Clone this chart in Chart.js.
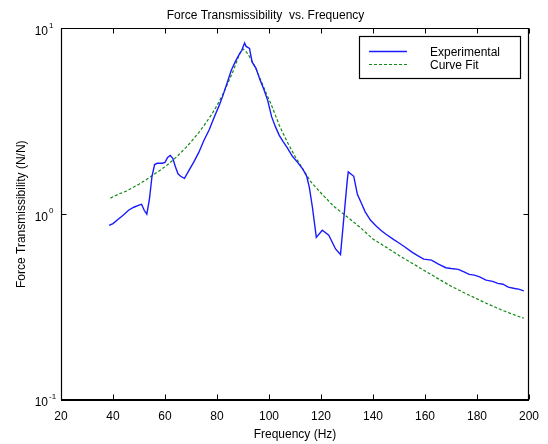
<!DOCTYPE html>
<html>
<head>
<meta charset="utf-8">
<script src="https://cdn.jsdelivr.net/npm/chart.js@4.4.1/dist/chart.umd.min.js"></script>
<style>
  html, body { margin: 0; padding: 0; background: #fff; }
  canvas { display: block; }
</style>
</head>
<body>
<canvas id="c" width="548" height="444"></canvas>
<script>
// ---- Data ----
const expFreq = [38.5,40,42,44,46,48,50,51,52,53,54,55,56,57,59,60,61,62,63,64,65,66,67.5,69,71,73,75,77,79,81,82.3,83.6,85.5,87,88.7,89.5,90.6,91.2,92.5,93.5,95,96.5,98,99.5,101,102.5,104,105.5,107,109,111,113,114.5,115.5,116.7,118.2,120.5,123,125.6,127.5,130.1,130.5,132.6,134,135.5,137,139,141,143,145,148,150,152,155,157,159.5,162.5,165,168,170,172.8,175,177,179,181,183.5,186,188,190,192,194.5,196,198];
const expValues = [0.87,0.89,0.94,0.99,1.05,1.09,1.12,1.13,1.05,1.0,1.2,1.6,1.85,1.88,1.88,1.9,2.02,2.07,2.0,1.8,1.65,1.6,1.56,1.7,1.9,2.15,2.5,2.85,3.35,3.9,4.36,4.94,5.95,6.6,7.31,7.6,8.34,8.0,7.8,6.6,6.1,5.3,4.7,4.1,3.35,2.95,2.65,2.45,2.28,2.05,1.9,1.75,1.6,1.4,1.09,0.75,0.82,0.77,0.65,0.607,1.52,1.69,1.6,1.28,1.15,1.03,0.93,0.87,0.82,0.78,0.73,0.70,0.67,0.625,0.6,0.573,0.566,0.54,0.515,0.51,0.505,0.49,0.474,0.47,0.46,0.442,0.435,0.424,0.42,0.405,0.398,0.395,0.387];

const fitFreq = [39,42,45,48,50,53,55,58,60,63,65,68,70,73,75,78,80,82,84,86,87,88,89,90,91,92,93,95,97,99,101,104,107,110,113,116,120,125,130,135,140,145,150,155,160,165,170,175,180,185,190,195,198];
const fitValues = [1.22,1.28,1.33,1.40,1.45,1.54,1.61,1.72,1.80,1.95,2.07,2.28,2.45,2.75,3.0,3.45,3.85,4.35,5.0,5.8,6.3,6.9,7.4,7.75,7.55,7.25,6.85,6.05,5.2,4.45,3.85,3.0,2.45,2.05,1.75,1.5,1.3,1.1,0.97,0.85,0.735,0.665,0.6,0.545,0.495,0.45,0.41,0.378,0.35,0.325,0.303,0.285,0.276];

const xTicks = [20,40,60,80,100,120,140,160,180,200];
const yTickValues = [0.1, 1, 10];
const yTickExponents = ['-1', '0', '1'];

const seriesLabels = ['Experimental', 'Curve Fit'];
const chartTitle = 'Force Transmissibility  vs. Frequency';
const xTitle = 'Frequency (Hz)';
const yTitle = 'Force Transmissibility (N/N)';

// ---- Chart ----
const FONT = '"Liberation Sans", Arial, Helvetica, sans-serif';

const toPoints = (xs, ys) => xs.map((x, i) => ({ x: x, y: ys[i] }));

const matlabAxes = {
  id: 'matlabAxes',
  afterDraw(chart) {
    const ctx = chart.ctx;
    const a = chart.chartArea;
    const xs = chart.scales.x, ys = chart.scales.y;
    const L = Math.round(a.left) + 0.5, R = Math.round(a.right) - 0.5;
    const T = Math.round(a.top) + 0.5, B = Math.round(a.bottom) - 0.5;
    ctx.save();
    ctx.strokeStyle = '#000';
    ctx.lineWidth = 1.2;
    // box
    ctx.beginPath();
    ctx.rect(L, T, R - L, B - T);
    ctx.stroke();
    // inward ticks
    ctx.lineWidth = 1;
    const tl = 5;
    ctx.beginPath();
    xTicks.forEach(v => {
      const px = Math.round(xs.getPixelForValue(v)) + 0.5;
      ctx.moveTo(px, B); ctx.lineTo(px, B - tl);
      ctx.moveTo(px, T); ctx.lineTo(px, T + tl);
    });
    yTickValues.forEach(v => {
      const py = Math.round(ys.getPixelForValue(v)) + 0.5;
      ctx.moveTo(L, py); ctx.lineTo(L + tl, py);
      ctx.moveTo(R, py); ctx.lineTo(R - tl, py);
    });
    ctx.stroke();
    // y tick labels with superscript exponents
    ctx.fillStyle = '#000';
    yTickValues.forEach((v, i) => {
      const py = ys.getPixelForValue(v);
      ctx.font = '12px ' + FONT;
      ctx.textAlign = 'right';
      ctx.textBaseline = 'middle';
      ctx.fillText('10', a.left - 13, py + 3);
      ctx.font = '8px ' + FONT;
      ctx.textAlign = 'left';
      ctx.fillText(yTickExponents[i], a.left - 12, py - 3);
    });
    // legend
    const bx = 359.5, by = 36.5, bw = 161, bh = 42;
    ctx.fillStyle = '#fff';
    ctx.fillRect(bx, by, bw, bh);
    ctx.strokeStyle = '#000';
    ctx.lineWidth = 1.2;
    ctx.strokeRect(bx, by, bw, bh);
    const rows = [51, 64];
    chart.data.datasets.forEach((ds, i) => {
      ctx.save();
      ctx.strokeStyle = ds.borderColor;
      ctx.lineWidth = ds.borderWidth;
      ctx.setLineDash(ds.borderDash || []);
      ctx.beginPath();
      ctx.moveTo(369, rows[i] + 0.5);
      ctx.lineTo(407, rows[i] + 0.5);
      ctx.stroke();
      ctx.restore();
      ctx.fillStyle = '#000';
      ctx.font = '12px ' + FONT;
      ctx.textAlign = 'left';
      ctx.textBaseline = 'middle';
      ctx.fillText(ds.label, 430, rows[i] + 2);
    });
    ctx.restore();
  }
};

new Chart(document.getElementById('c'), {
  type: 'line',
  data: {
    datasets: [
      {
        label: seriesLabels[0],
        data: toPoints(expFreq, expValues),
        borderColor: '#1a1aff',
        borderWidth: 1.4,
        pointRadius: 0,
        tension: 0,
        fill: false
      },
      {
        label: seriesLabels[1],
        data: toPoints(fitFreq, fitValues),
        borderColor: '#108a10',
        borderWidth: 1.2,
        borderDash: [3, 2],
        pointRadius: 0,
        tension: 0,
        fill: false
      }
    ]
  },
  options: {
    responsive: false,
    animation: false,
    devicePixelRatio: 1,
    layout: { padding: { left: 0, right: 17, top: 0, bottom: 0 } },
    plugins: {
      legend: { display: false },
      tooltip: { enabled: false },
      title: {
        display: true,
        text: chartTitle,
        color: '#000',
        font: { family: FONT, size: 12, weight: 'normal' },
        padding: { top: 8, bottom: 6 }
      }
    },
    scales: {
      x: {
        type: 'linear',
        min: 20,
        max: 200,
        afterBuildTicks(s) { s.ticks = xTicks.map(v => ({ value: v })); },
        afterFit(s) { s.height = 44; },
        ticks: {
          color: '#000',
          font: { family: FONT, size: 12 },
          padding: 9,
          maxRotation: 0,
          autoSkip: false
        },
        grid: { display: false, drawTicks: false },
        border: { display: true, color: '#000', width: 1 },
        title: {
          display: true,
          text: xTitle,
          color: '#000',
          font: { family: FONT, size: 12 },
          padding: { top: 0, bottom: 2 }
        }
      },
      y: {
        type: 'logarithmic',
        min: 0.1,
        max: 10,
        afterFit(s) { s.width = 61; },
        ticks: { display: false },
        grid: { display: false, drawTicks: false },
        border: { display: true, color: '#000', width: 1 },
        title: {
          display: true,
          text: yTitle,
          color: '#000',
          font: { family: FONT, size: 12 },
          padding: { top: 14, bottom: 0 }
        }
      }
    }
  },
  plugins: [matlabAxes]
});
</script>
</body>
</html>
